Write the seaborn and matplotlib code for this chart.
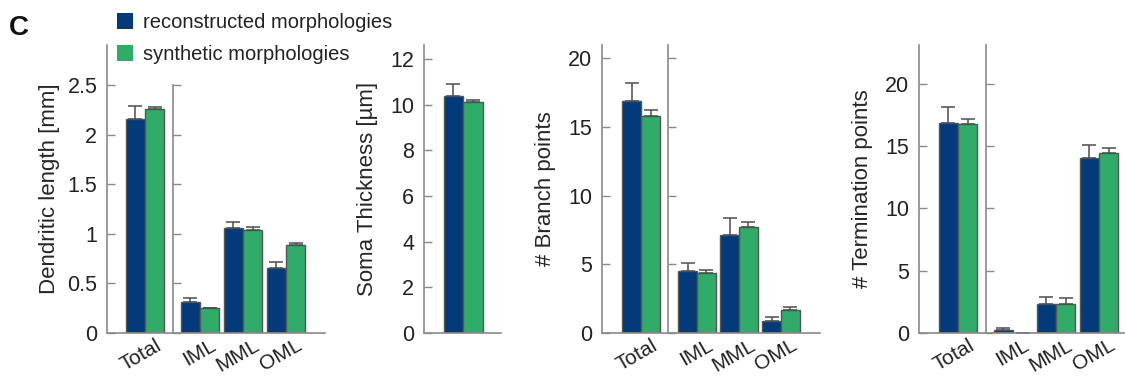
import numpy as np
import pandas as pd
import matplotlib
matplotlib.use("Agg")
import matplotlib.pyplot as plt
import seaborn as sns
from matplotlib.patches import Patch
from matplotlib.ticker import FuncFormatter
from matplotlib.transforms import ScaledTranslation

# ---- data (means and upper error bars) ----
series = ["reconstructed morphologies", "synthetic morphologies"]
layers = ["IML", "MML", "OML"]

length_total = [2.16, 2.26]
length_total_err = [0.13, 0.02]
length_rec = [0.31, 1.06, 0.66]
length_rec_err = [0.04, 0.06, 0.06]
length_syn = [0.25, 1.035, 0.89]
length_syn_err = [0.007, 0.03, 0.02]

soma = [10.4, 10.1]
soma_err = [0.5, 0.09]

branch_total = [16.9, 15.8]
branch_total_err = [1.3, 0.4]
branch_rec = [4.5, 7.1, 0.85]
branch_rec_err = [0.6, 1.3, 0.35]
branch_syn = [4.4, 7.7, 1.65]
branch_syn_err = [0.22, 0.38, 0.25]

term_total = [16.85, 16.75]
term_total_err = [1.3, 0.45]
term_rec = [0.27, 2.35, 14.0]
term_rec_err = [0.13, 0.55, 1.1]
term_syn = [0.0, 2.35, 14.4]
term_syn_err = [0.0, 0.45, 0.4]

colors = ["#033b7a", "#30ab68"]
edge = "#555555"
spine_c = "#8a8a8a"
text_c = "#222222"

sns.set_style("ticks")
plt.rcParams["font.family"] = ["Liberation Sans", "DejaVu Sans"]
plt.rcParams["text.color"] = text_c

W, H = 1125, 378
fig = plt.figure(figsize=(W / 100, H / 100), dpi=100)
y_bot = 333
y_top = 44.5


def make_ax(x0, x1):
    return fig.add_axes([x0 / W, 1 - y_bot / H, (x1 - x0) / W, (y_bot - y_top) / H])


def draw_bars(ax, cats, rec, syn, rec_err, syn_err):
    df = pd.DataFrame({
        "cat": cats * 2,
        "series": [series[0]] * len(cats) + [series[1]] * len(cats),
        "value": list(rec) + list(syn),
    })
    sns.barplot(data=df, x="cat", y="value", hue="series", order=cats,
                hue_order=series, palette=colors, saturation=1, width=0.9, gap=0,
                errorbar=None, edgecolor=edge, linewidth=1.0, legend=False, ax=ax)
    for cont, errs in zip(ax.containers, [rec_err, syn_err]):
        xs = [b.get_x() + b.get_width() / 2 for b in cont]
        ys = [b.get_height() for b in cont]
        ax.errorbar(xs, ys, yerr=[np.zeros(len(errs)), errs], fmt="none",
                    ecolor="#4d4d4d", elinewidth=1.1, capsize=5, capthick=1.1)
    ax.set_xlabel("")
    ax.set_ylabel("")


def style(ax, ymax, ticks, xlim, main=True, sep_top=None):
    ax.set_ylim(0, ymax)
    ax.set_xlim(*xlim)
    ax.set_yticks(ticks)
    ax.yaxis.set_major_formatter(FuncFormatter(lambda v, p: f"{v:g}"))
    for s in ["top", "right"]:
        ax.spines[s].set_visible(False)
    for s in ["left", "bottom"]:
        ax.spines[s].set_color(spine_c)
        ax.spines[s].set_linewidth(1.2)
    ax.tick_params(axis="y", direction="in", length=6, width=1.0, color=spine_c,
                   labelsize=15.5, labelcolor=text_c, pad=7, labelleft=main)
    ax.tick_params(axis="x", length=0, labelsize=15, labelcolor=text_c, pad=2)
    if sep_top is not None:
        ax.spines["left"].set_bounds(0, sep_top)
    shift = ScaledTranslation(0.10, 0, fig.dpi_scale_trans)
    for lab in ax.get_xticklabels():
        lab.set_rotation(30)
        lab.set_ha("right")
        lab.set_rotation_mode("anchor")
        lab.set_transform(lab.get_transform() + shift)


# panel 1: dendritic length
ax = make_ax(107, 173)
draw_bars(ax, ["Total"], [length_total[0]], [length_total[1]],
          [length_total_err[0]], [length_total_err[1]])
style(ax, 2.908, np.arange(0, 2.51, 0.5), (-0.88, 0.65))
ax.set_ylabel("Dendritic length [mm]", fontsize=16, labelpad=5)
ax = make_ax(173, 325)
draw_bars(ax, layers, length_rec, length_syn, length_rec_err, length_syn_err)
style(ax, 2.908, np.arange(0, 2.51, 0.5), (-0.63, 2.91), main=False, sep_top=2.5)

# panel 2: soma thickness
ax = make_ax(424, 501)
draw_bars(ax, ["Soma"], [soma[0]], [soma[1]], [soma_err[0]], [soma_err[1]])
style(ax, 12.64, np.arange(0, 12.1, 2), (-0.91, 0.88))
ax.tick_params(axis="x", labelbottom=False)
ax.set_ylabel("Soma Thickness [µm]", fontsize=16, labelpad=9)

# panel 3: branch points
ax = make_ax(602, 668)
draw_bars(ax, ["Total"], [branch_total[0]], [branch_total[1]],
          [branch_total_err[0]], [branch_total_err[1]])
style(ax, 21.0, np.arange(0, 20.1, 5), (-0.93, 0.64))
ax.set_ylabel("# Branch points", fontsize=16, labelpad=9)
ax = make_ax(668, 820)
draw_bars(ax, layers, branch_rec, branch_syn, branch_rec_err, branch_syn_err)
style(ax, 21.0, np.arange(0, 20.1, 5), (-0.69, 2.93), main=False)

# panel 4: termination points
ax = make_ax(919, 986)
draw_bars(ax, ["Total"], [term_total[0]], [term_total[1]],
          [term_total_err[0]], [term_total_err[1]])
style(ax, 23.14, np.arange(0, 20.1, 5), (-0.91, 0.65))
ax.set_ylabel("# Termination points", fontsize=16, labelpad=9)
ax = make_ax(986, 1124)
draw_bars(ax, layers, term_rec, term_syn, term_rec_err, term_syn_err)
style(ax, 23.14, np.arange(0, 20.1, 5), (-0.63, 2.58), main=False)

handles = [Patch(facecolor=c, edgecolor="none") for c in colors]
fig.legend(handles, series, loc="upper left", bbox_to_anchor=(117 / W, 1 - 13 / H),
           frameon=False, borderpad=0, borderaxespad=0, handlelength=0.8,
           handleheight=0.8, handletextpad=0.5, labelspacing=0.65, fontsize=14.5)

fig.text(9 / W, 1 - 28 / H, "C", fontsize=20, fontweight="bold",
         ha="left", va="center", color="#111111")

fig.savefig("out.png", dpi=100)
